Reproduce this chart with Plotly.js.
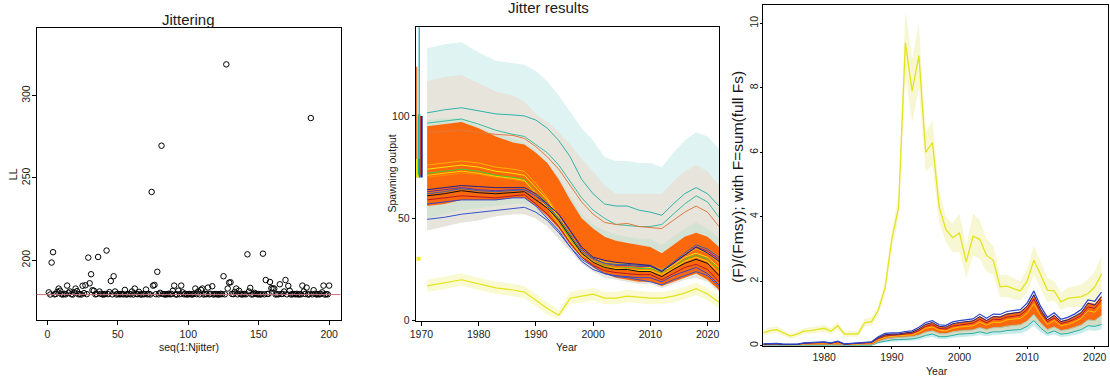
<!DOCTYPE html>
<html>
<head>
<meta charset="utf-8">
<script src="https://cdn.plot.ly/plotly-3.0.1.min.js"></script>
<style>html,body{margin:0;padding:0;background:#fff}#chart{width:1110px;height:383px}</style>
</head>
<body>
<div id="chart"></div>
<script>
// ---------------- Panel 1: Jittering ----------------
const jitterRun = [];
for (let i = 1; i <= 200; i++) jitterRun.push(i);
const jitterLL = [
180.5,179.2,198.6,204.9,179.3,179.5,180.8,182.8,181.5,179.4,
179.2,179.6,179.3,184.6,180.2,181.0,179.4,179.2,180.5,182.8,
181.2,179.3,179.5,179.2,184.5,180.0,184.8,179.4,201.6,186.0,
191.5,181.8,181.5,179.3,179.5,202.0,181.0,179.6,179.3,179.2,
179.5,205.9,179.4,180.6,187.4,179.3,190.3,181.0,179.2,179.6,
179.3,179.4,179.5,179.3,182.0,179.2,179.4,179.6,179.3,181.0,
179.2,182.8,179.5,179.4,180.8,179.3,179.2,179.5,179.4,182.2,
179.3,179.6,179.2,241.5,184.6,185.0,179.4,193.0,179.3,180.2,
269.6,179.5,179.3,179.2,179.4,179.6,179.3,179.5,181.4,184.6,
179.3,179.2,181.5,179.4,184.6,180.5,179.3,179.6,179.2,179.4,
179.5,179.3,179.2,179.6,182.8,179.4,181.0,179.3,182.0,182.8,
179.2,179.5,179.4,183.4,179.3,179.6,184.2,179.2,179.5,179.4,
179.3,179.2,179.6,179.4,190.3,179.3,319.0,182.8,186.4,186.6,
179.5,179.4,180.8,182.8,179.3,181.5,179.6,179.2,179.4,179.5,
179.3,203.6,181.0,183.2,179.2,179.4,180.2,179.6,179.3,179.5,
179.2,179.4,204.0,179.3,188.0,179.5,179.6,186.8,183.0,182.8,
182.8,179.2,179.4,179.3,185.4,179.5,179.6,181.0,188.0,179.3,
184.4,181.5,179.2,179.4,179.5,179.3,179.6,179.2,179.4,179.3,
184.6,181.0,179.5,183.4,179.2,179.4,286.4,179.3,181.8,179.6,
179.2,179.4,179.3,179.5,180.5,184.6,179.2,179.4,179.3,184.6];
const minLL = 179.15;
const p1XTicks = [0, 50, 100, 150, 200];
const p1YTicks = [200, 250, 300];

// ---------------- Panel 2: Jitter results (spawning output) ----------------
const years2 = [1971,1974,1977,1980,1983,1986,1988,1990,1992,1994,1996,1998,2000,2002,2004,2006,2008,2010,2012,2014,2016,2018,2020,2022];
const cyanHi  = [133,135,136,131,127,126,125,122,117,110,102,94,88,80,78,78,77,77,75,82,88,92,90,84];
const grayHi  = [117,119,120,116,112,110,107,101,97,92,86,79,73,66,62,62,62,62,62,68,73,76,73,66];
const grayLo  = [44,46,48,49,51,52,52,50,46,40,34,28,24,21,20,19,18,18,16,18,20,21,19,14];
const sageHi  = [98,99,99,95,91,89,87,83,77,70,61,52,47,44,42,41,40,40,37,41,45,48,45,40];
const sageLo  = [50,52,54,55,56,57,57,54,49,43,36,30,26,23,22,21,20,19,17,19,21,23,21,16];
const orangeHi= [95,96,97,94,90,87,86,82,77,69,59,50,45,41,39,38,37,36,33,37,41,43,41,36];
const orangeLo= [56,57,59,59,59,60,60,56,51,45,37,31,26,23,21,20,19,19,17,19,21,23,20,15];
const teal1   = [101.5,103,104,102.5,101,100.5,100,98,94,88,80,69,62,57,56,56,54,53,51.5,57,62,65,62,56];
const teal2   = [96.5,97.5,98.5,96,93,91,90,86,82,76,68,60,54,50,47,46.5,46,46,47,52,57,61,58,50.5];
const orangeLn= [92,92.5,93,92,91,90.5,89,85,80,74,66,58,52,48,47,47.5,46,45.5,45,49,53,56,53,46];
const blueLow = [49.5,50.5,52,53,54,55,55.4,53,49,43,36,30,26.5,23,21.5,21,20,19,17.5,20,22,24,22,16.6];
const b1  = [76,77,78,77,75,74,73,67,60,51,42,35,31,28.5,28,28,27,27,25,28,32,35,33,28];
const b2  = [74,75,76,75,73,72,71,65,59,50,41,34,30,28,27,27,26.5,26,24,27,31,33,31,26];
const b3  = [72,73,74,73,71,70,69,63,57,49,40,33,29,27,26,26,25.5,25.5,23.5,26,30,32,30,25];
const b4  = [70,71,72,71.5,70,69,68,63,56,48,39,33,29,26.5,26,25.5,25,25,23,26,29,31,29,24];
const b5  = [71,72,73,72,70.5,69.5,68.5,62,55,47,39,32,28.5,26,25.5,25,24.5,24.5,22.5,25.5,29,31,29,23.5];
const b6  = [64,65,66,65.5,65,65,65,62,57,52,44,36,31,29.5,28.5,28,27.5,27,24,28,32,36,33,29];
const b7  = [61,62,63.5,62.5,62,62.5,63,59,55,49,41,33,28.5,26,25,25,24,24,21.5,25,28,30,28,22];
const b8  = [59,60,61,60.5,60,61,61.5,57,52,46,38,31,27,24.5,23.5,23,22.5,22.5,20,23,26,27.5,25,19];
const b9  = [57,58,59,59,59,60,60,56,50,44,36,29,25,23,22,21.5,21,21,19,22,24,26,23,17.5];
const b10 = [63,64,65,64,63.5,64,64,61,57,52,44,35,30.5,28,27,27,26.5,26.5,24,28,32,36,34,30];
const b11 = [62,63,64.5,63.5,63,63.5,64,61,56,50,42,34,30,28,27.5,27.5,27,27,24.5,28.5,33,37,35,31];
const yellowSO   = [17,18.5,20,18,16,15,14,10,6,2.7,11,12,13,11,11,12,11.5,11,11,12,13.5,15.6,13,9];
const yellowSOHi = [20,21.5,23,21,19,18,17,13,9,5,14,15,16,14,14,15,14.5,14,14,15,16.5,18.5,16,12];
const yellowSOLo = [14,15.5,17,15,13,12,11,7,3,1,8,9,10,8,8,9,8.5,8,8,9,10.5,12.5,10,6];
// virgin spawning output intervals (left of the series)
const virginX   = [1969.15,1969.3,1969.45,1969.55,1969.65,1969.72,1969.8,1970.05,1969.62];
const virginLo  = [70,70,72,71,72,70,71,70,79];
const virginHi  = [124,79,101,100,101,99,100,100,150];
const virginCol = ['#f07a30','#f2e600','#ffc800','#22cc44','#00b8a8','#2266dd','#ff4400','#1a2a9a','#33bbcc'];
const virginW   = [1.5,4,2,2,2,2,2,2,1.5];
const virginLowX = [1969.5], virginLowY = [30.3];
const p2XTicks = [1970,1980,1990,2000,2010,2020];
const p2YTicks = [0,50,100];

// ---------------- Panel 3: F / Fmsy ----------------
const years3 = [1971,1972,1973,1974,1975,1976,1977,1978,1979,1980,1981,1982,1983,1984,1985,1986,1987,1988,1989,1990,1991,1992,1993,1994,1995,1996,1997,1998,1999,2000,2001,2002,2003,2004,2005,2006,2007,2008,2009,2010,2011,2012,2013,2014,2015,2016,2017,2018,2019,2020,2021];
const yellowF   = [0.40,0.47,0.50,0.40,0.30,0.36,0.45,0.47,0.50,0.54,0.45,0.62,0.36,0.37,0.37,0.72,0.75,1.10,1.80,3.30,4.30,9.40,7.90,9.00,6.00,6.30,4.30,3.60,3.35,3.50,2.60,3.40,3.30,2.80,2.65,1.83,1.85,1.77,1.70,2.00,2.65,2.20,1.72,1.70,1.36,1.47,1.50,1.52,1.62,1.82,2.22];
const yellowFHi = [0.5,0.57,0.6,0.5,0.38,0.45,0.55,0.57,0.6,0.65,0.55,0.74,0.45,0.46,0.46,0.85,0.88,1.25,2.0,3.6,4.7,10.4,8.9,10.0,6.6,7.0,4.8,4.0,3.8,4.1,3.1,4.1,3.9,3.3,3.1,2.2,2.2,2.1,2.0,2.4,3.1,2.6,2.1,2.0,1.65,1.8,1.85,1.9,2.05,2.3,2.8];
const yellowFLo = [0.3,0.37,0.4,0.3,0.22,0.27,0.35,0.37,0.4,0.43,0.35,0.5,0.27,0.28,0.28,0.6,0.62,0.95,1.6,3.0,3.9,8.4,6.9,8.0,5.4,5.6,3.8,3.2,2.9,2.9,2.1,2.8,2.7,2.3,2.2,1.5,1.5,1.45,1.4,1.65,2.2,1.8,1.35,1.4,1.1,1.2,1.2,1.2,1.25,1.4,1.7];
const fBlue = [0.06,0.07,0.07,0.05,0.04,0.05,0.09,0.10,0.11,0.12,0.09,0.14,0.06,0.08,0.08,0.12,0.12,0.28,0.38,0.40,0.40,0.44,0.46,0.57,0.72,0.78,0.65,0.63,0.74,0.78,0.80,0.83,0.98,0.85,0.98,0.97,1.06,1.08,1.12,1.32,1.70,1.22,0.88,1.02,0.82,0.88,0.98,1.12,1.42,1.38,1.66];
const fNavy = [0.05,0.06,0.06,0.04,0.03,0.04,0.08,0.09,0.10,0.11,0.08,0.13,0.05,0.07,0.07,0.11,0.11,0.25,0.34,0.36,0.36,0.40,0.42,0.52,0.66,0.72,0.60,0.58,0.68,0.72,0.74,0.77,0.90,0.78,0.90,0.89,0.98,1.00,1.04,1.22,1.58,1.12,0.80,0.94,0.75,0.80,0.90,1.02,1.32,1.26,1.52];
const fOrHi = [0.05,0.06,0.06,0.04,0.03,0.04,0.08,0.09,0.10,0.11,0.08,0.13,0.05,0.07,0.07,0.11,0.11,0.26,0.35,0.37,0.37,0.41,0.43,0.53,0.67,0.73,0.61,0.59,0.69,0.73,0.75,0.78,0.92,0.80,0.92,0.91,1.00,1.02,1.06,1.25,1.60,1.15,0.83,0.96,0.77,0.83,0.92,1.05,1.34,1.30,1.56];
const fRed  = [0.04,0.05,0.05,0.03,0.03,0.04,0.07,0.08,0.09,0.10,0.07,0.12,0.04,0.06,0.06,0.10,0.10,0.22,0.30,0.32,0.33,0.36,0.38,0.47,0.60,0.65,0.54,0.52,0.61,0.65,0.67,0.70,0.82,0.71,0.82,0.81,0.89,0.91,0.95,1.12,1.45,1.03,0.74,0.86,0.69,0.74,0.82,0.94,1.20,1.16,1.42];
const fGold = [0.03,0.04,0.04,0.03,0.02,0.03,0.06,0.07,0.08,0.09,0.06,0.10,0.04,0.05,0.05,0.09,0.09,0.18,0.26,0.29,0.30,0.32,0.34,0.42,0.54,0.58,0.48,0.46,0.54,0.58,0.60,0.62,0.73,0.64,0.73,0.72,0.80,0.82,0.85,1.00,1.30,0.93,0.66,0.78,0.62,0.66,0.74,0.85,1.08,1.04,1.28];
const fOrLo = [0.01,0.01,0.01,0.01,0.01,0.01,0.02,0.02,0.02,0.02,0.02,0.02,0.01,0.01,0.01,0.02,0.02,0.12,0.20,0.24,0.25,0.27,0.28,0.33,0.42,0.46,0.38,0.37,0.43,0.46,0.47,0.49,0.56,0.50,0.56,0.56,0.61,0.62,0.65,0.76,0.97,0.70,0.50,0.58,0.47,0.50,0.56,0.64,0.80,0.78,0.94];
const fTeal = [0.01,0.01,0.01,0.01,0.01,0.01,0.01,0.01,0.01,0.01,0.01,0.01,0.01,0.01,0.01,0.01,0.01,0.10,0.15,0.18,0.19,0.20,0.21,0.25,0.32,0.36,0.28,0.28,0.33,0.36,0.37,0.38,0.43,0.38,0.43,0.43,0.47,0.48,0.50,0.60,0.78,0.55,0.38,0.46,0.36,0.38,0.43,0.50,0.62,0.60,0.66];
const fCyanLo = [0,0,0,0,0,0,0,0,0,0,0,0,0,0,0,0,0,0.06,0.10,0.12,0.13,0.14,0.15,0.18,0.24,0.27,0.21,0.21,0.25,0.27,0.28,0.29,0.33,0.29,0.33,0.33,0.36,0.37,0.38,0.46,0.62,0.42,0.29,0.35,0.27,0.29,0.33,0.38,0.48,0.46,0.50];
const p3XTicks = [1980,1990,2000,2010,2020];
const p3YTicks = [0,2,4,6,8,10];

// ---------------- helpers ----------------
function band(x, hi, lo, color, xa, ya) {
  return {x: x.concat(x.slice().reverse()), y: hi.concat(lo.slice().reverse()),
    fill: 'toself', fillcolor: color, line: {width: 0}, mode: 'lines',
    xaxis: xa, yaxis: ya, hoverinfo: 'skip', showlegend: false};
}
function line(x, y, color, w, xa, ya) {
  return {x: x, y: y, mode: 'lines', line: {color: color, width: w},
    xaxis: xa, yaxis: ya, hoverinfo: 'skip', showlegend: false};
}

const traces = [];
// panel 1
traces.push({x: jitterRun, y: jitterLL, mode: 'markers', xaxis: 'x', yaxis: 'y',
  marker: {symbol: 'circle-open', size: 5.5, color: '#000', line: {width: 1, color: '#000'}},
  hoverinfo: 'skip', showlegend: false});

// panel 2 ribbons
traces.push(band(years2, cyanHi, grayLo, '#dff3f3', 'x2', 'y2'));
traces.push(band(years2, grayHi, grayLo, '#e7e4dc', 'x2', 'y2'));
traces.push(band(years2, sageHi, sageLo, '#d4e2d4', 'x2', 'y2'));
traces.push(band(years2, orangeHi, orangeLo, '#fc690c', 'x2', 'y2'));
traces.push(band(years2, yellowSOHi, yellowSOLo, '#f9f9d2', 'x2', 'y2'));
// panel 2 lines
traces.push(line(years2, teal1, '#2fb3a8', 1, 'x2', 'y2'));
traces.push(line(years2, teal2, '#3cbba0', 1, 'x2', 'y2'));
traces.push(line(years2, orangeLn, '#e07a40', 1, 'x2', 'y2'));
const bundle = [[b1,'#ffb000'],[b2,'#f5e600'],[b3,'#44cc33'],[b4,'#ff8a00'],[b5,'#ffd200'],
  [b10,'#6a2ea0'],[b11,'#3366aa'],[b6,'#22228a'],[b7,'#111111'],[b8,'#b0182a'],[b9,'#3344cc']];
bundle.forEach(function (b) { traces.push(line(years2, b[0], b[1], 1, 'x2', 'y2')); });
traces.push(line(years2, blueLow, '#3355cc', 1, 'x2', 'y2'));
traces.push(line(years2, yellowSO, '#e4e41a', 1.2, 'x2', 'y2'));
// virgin intervals
virginX.forEach(function (vx, i) {
  traces.push(line([vx, vx], [virginLo[i], virginHi[i]], virginCol[i], virginW[i], 'x2', 'y2'));
});
traces.push({x: virginLowX, y: virginLowY, mode: 'markers', xaxis: 'x2', yaxis: 'y2',
  marker: {symbol: 'square', size: 4, color: '#eeee22'}, hoverinfo: 'skip', showlegend: false});

// panel 3
traces.push(band(years3, yellowFHi, yellowFLo, '#f7f8d3', 'x3', 'y3'));
traces.push(band(years3, fTeal, fCyanLo, '#c9ecea', 'x3', 'y3'));
traces.push(band(years3, fOrLo, fTeal, '#d5dcc6', 'x3', 'y3'));
traces.push(band(years3, fOrHi, fOrLo, '#fc690c', 'x3', 'y3'));
traces.push(line(years3, fTeal, '#20b0a8', 1, 'x3', 'y3'));
traces.push(line(years3, fOrLo, '#a8c8b0', 1, 'x3', 'y3'));
traces.push(line(years3, fGold, '#ffc000', 1, 'x3', 'y3'));
traces.push(line(years3, fRed, '#b01830', 1, 'x3', 'y3'));
traces.push(line(years3, fNavy, '#22227a', 1, 'x3', 'y3'));
traces.push(line(years3, fBlue, '#2a44cc', 1.2, 'x3', 'y3'));
traces.push(line(years3, yellowF, '#e2e41c', 1.3, 'x3', 'y3'));

const FONT = 'Liberation Sans, Arial, sans-serif';
const tickFont = {family: FONT, size: 10.5, color: '#222'};
function ax(extra) {
  return Object.assign({showgrid: false, zeroline: false, showline: true, mirror: true,
    linecolor: '#000', linewidth: 1, ticks: 'outside', ticklen: 4, tickcolor: '#000',
    tickfont: tickFont, tickmode: 'array', fixedrange: true}, extra);
}
function pxX(p) { return p / 1110; }
function pxY(p) { return 1 - p / 383; }
function label(text, px, py, size, angle) {
  return {text: text, xref: 'paper', yref: 'paper', x: pxX(px), y: pxY(py), showarrow: false,
    xanchor: 'center', yanchor: 'middle', textangle: angle || 0,
    font: {family: FONT, size: size, color: '#1a1a1a'}};
}

const layout = {
  width: 1110, height: 383,
  margin: {l: 0, r: 0, t: 0, b: 0},
  paper_bgcolor: '#fff', plot_bgcolor: '#fff',
  showlegend: false,
  xaxis:  ax({domain: [pxX(36.7), pxX(340.7)], range: [-7.6, 208.2], tickvals: p1XTicks, anchor: 'y'}),
  yaxis:  ax({domain: [pxY(320), pxY(28)], range: [163.7, 341.1], tickvals: p1YTicks, tickangle: -90, anchor: 'x', ticklabelstandoff: -2}),
  xaxis2: ax({domain: [pxX(415.7), pxX(719)], range: [1969, 2022], tickvals: p2XTicks, anchor: 'y2'}),
  yaxis2: ax({domain: [pxY(320.7), pxY(27.3)], range: [0, 143.3], tickvals: p2YTicks, anchor: 'x2', ticklen: 3}),
  xaxis3: ax({domain: [pxX(763.3), pxX(1108.3)], range: [1971, 2022], tickvals: p3XTicks, anchor: 'y3', ticklen: 2}),
  yaxis3: ax({domain: [pxY(345.7), pxY(5)], range: [0, 10.57], tickvals: p3YTicks, tickangle: -90, anchor: 'x3', ticklen: 2, ticklabelstandoff: -2}),
  shapes: [{type: 'line', xref: 'x domain', yref: 'y', x0: 0, x1: 1, y0: minLL, y1: minLL,
    line: {color: '#c8707a', width: 1}}],
  annotations: [
    label('Jittering', 188, 19, 15, 0),
    label('LL', 12.5, 175, 11, -90),
    label('seq(1:Njitter)', 189, 346.5, 10.5, 0),
    label('Jitter results', 548, 7.5, 15, 0),
    label('Spawning output', 391.5, 174, 10.5, -90),
    label('Year', 567, 346.5, 10.5, 0),
    label('(F)/(Fmsy); with F=sum(full Fs)', 737, 177, 15.5, -90),
    label('Year', 937, 371, 10.5, 0)
  ]
};

Plotly.newPlot('chart', traces, layout, {staticPlot: true, displayModeBar: false});
</script>
</body>
</html>
